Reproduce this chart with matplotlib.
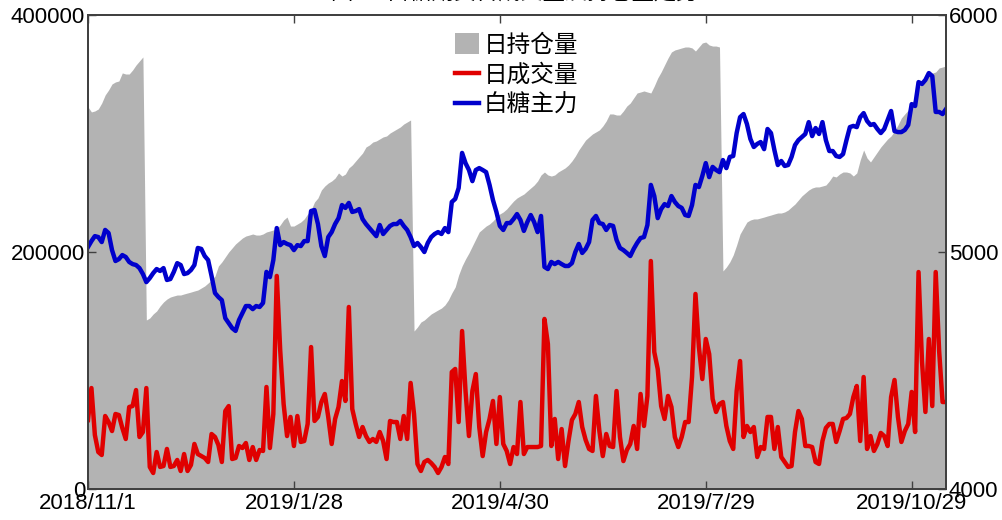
import numpy as np
import matplotlib
matplotlib.use('Agg')
import matplotlib.pyplot as plt
from matplotlib.patches import Patch
from matplotlib.lines import Line2D

plt.rcParams['font.family'] = ['Liberation Sans', 'Noto Sans CJK SC']

# x axis labels (every 60 trading days)
tick_labels = ['2018/11/1', '2019/1/28', '2019/4/30', '2019/7/29', '2019/10/29']
tick_step = 60

# daily open interest (gray area, left axis)
open_interest = [
    322400, 318200, 319000, 320700, 325700, 332500, 336700, 341800, 343500, 344300,
    351100, 350200, 350200, 353600, 357800, 361200, 364600,
    142600, 144300, 147700, 150200, 154400, 157800, 160300, 162000, 162900, 163700,
    163700, 164600, 165400, 166200, 167100, 167900, 169600, 171300, 173800, 176400,
    179700, 188200, 191600, 195800, 200000, 203400, 206800, 209300, 211800, 213500,
    214300, 215200, 214300, 214300,
    215200, 216900, 217700, 218600, 219400, 222800, 227000, 229500, 221900, 221900,
    223600, 225300, 227900, 232100, 235400, 242200, 245600, 252300, 255700, 258200,
    259900, 262400, 266700, 264100, 265800, 270900, 273400, 276800, 280200, 283500,
    288600, 290300, 292800, 293700, 295400, 297100, 297900, 300400, 302100, 303800,
    305500, 308000, 309700, 311400,
    133300, 136700, 140900, 142600, 145200, 147700, 149400, 151100, 152700, 155300,
    159500, 165400, 170500, 180600, 188200, 194100, 199200, 205100, 211000, 216900,
    219400, 221900, 223600, 226200, 229500, 232100, 233800, 236300, 239700, 243000,
    245600, 247300, 248900, 251500, 254000, 256500, 259900, 265000, 267500, 265000,
    264100, 265000, 267500, 269200, 270900, 273400, 276800, 281000, 286100, 290300,
    294500, 297100, 299600, 301300, 303000, 306300, 310600, 316500, 316500, 315600,
    315600, 319000, 323200, 325700, 330000, 334200, 335000, 335900, 335000, 334200,
    340100, 346800, 351900, 357800, 363700, 368800, 370500, 371300, 372200, 373000,
    373000, 372200, 369600, 373000, 376400, 377200, 374700, 373800, 373800, 373000,
    184000, 187300, 191600, 197500, 205900, 215200, 220300, 225300, 227000, 227900,
    227900, 228700, 229500, 230400, 231200, 232100, 232900, 232900, 233800, 235400,
    238000, 240500, 243900, 247300, 249800, 252300, 254000, 254900, 254900, 255700,
    256500, 259900, 264100, 263300, 265800, 267500, 267500, 266700, 264100, 266700,
    277600, 286100, 279300, 276000, 280200, 284400, 288600, 292000, 295400, 297900,
    302100, 307200, 313100, 316500, 319800, 324900, 330800, 338400, 342600, 347700,
    351000, 351000, 351900, 355300, 356100, 357000,
]

# daily volume (red line, left axis)
volume = [
    58200, 85200, 45600, 31200, 28700, 61600, 56500, 48900, 63300, 62400,
    51500, 42200, 69200, 70000, 83500, 43900, 48100, 85200, 18600, 13500,
    31200, 18600, 19400, 33800, 18600, 19400, 24500, 15200, 29500, 15200,
    20300, 38000, 29500, 27800, 26200, 22800, 46400, 43900, 37100, 22800,
    65800, 70000, 25300, 26200, 36300, 34600, 38800, 24500, 35400, 24500,
    32900, 32100, 86100, 34600, 63300, 179800, 117300, 71700, 44700, 60800,
    36300, 61600, 39700, 40500, 54900, 119800, 57400, 60800, 73400, 80200,
    60800, 38000, 59100, 69200, 91100, 74300, 153600, 67500, 54900, 43900,
    52300, 44700, 39700, 42200, 39700, 48100, 40500, 25300, 57400, 56500,
    56500, 42200, 61600, 42200, 89500, 63300, 21100, 15200, 22800, 24500,
    21900, 18600, 13500, 18600, 27000, 21100, 98700, 101300, 56500, 133300,
    82700, 44700, 82700, 97000, 52300, 27800, 48100, 59100, 74300, 38000,
    77600, 38000, 32100, 21100, 35400, 29500, 73400, 29500, 35400, 35400,
    35400, 35400, 36300, 143500, 122400, 36300, 59100, 25300, 50600, 19400,
    40500, 58200, 63300, 73400, 52300, 41400, 33800, 32100, 78500, 48900,
    27800, 46400, 36300, 35400, 82700, 43900, 23600, 32900, 38000, 53200,
    33800, 80200, 53200, 78500, 192400, 115600, 101300, 70000, 59100, 78500,
    69200, 43900, 35400, 43900, 56500, 56500, 94500, 164600, 119800, 92800,
    126600, 113900, 76000, 65000, 71700, 73400, 53200, 40500, 33800, 82700,
    108000, 43900, 53200, 48100, 52300, 27000, 35400, 33800, 60800, 60800,
    33800, 52300, 27000, 22800, 18600, 19400, 48100, 65800, 59100, 36300,
    36300, 35400, 22800, 21100, 40500, 51500, 54900, 54900, 39700, 48900,
    59100, 59900, 63300, 77600, 86900, 40500, 94500, 33800, 44700, 32100,
    38000, 47300, 44700, 36300, 77600, 92000, 60800, 39700, 48900, 54900,
    81900, 48100, 183100, 108000, 65000, 126600, 70000, 183100, 116500, 73400,
    73400,
]

# main sugar contract price (blue line, right axis)
price = [
    5021, 5046, 5067, 5063, 5042, 5093, 5080, 5008, 4962, 4970,
    4987, 4979, 4958, 4949, 4945, 4932, 4907, 4873, 4890, 4911,
    4928, 4920, 4932, 4882, 4886, 4916, 4953, 4945, 4907, 4911,
    4924, 4945, 5017, 5013, 4983, 4966, 4899, 4827, 4810, 4797,
    4721, 4700, 4679, 4667, 4713, 4743, 4772, 4772, 4759, 4772,
    4768, 4785, 4916, 4894, 4966, 5101, 5029, 5042, 5034, 5029,
    5008, 5029, 5025, 5046, 5046, 5173, 5177, 5118, 5025, 4983,
    5063, 5084, 5118, 5143, 5198, 5186, 5207, 5169, 5173, 5181,
    5139, 5118, 5101, 5084, 5067, 5114, 5076, 5093, 5110, 5118,
    5118, 5131, 5110, 5093, 5063, 5025, 5038, 5021, 5000, 5038,
    5063, 5076, 5084, 5076, 5101, 5084, 5211, 5224, 5270, 5418,
    5375, 5346, 5299, 5346, 5354, 5346, 5337, 5283, 5219, 5169,
    5110, 5093, 5122, 5122, 5139, 5160, 5135, 5089, 5126, 5156,
    5126, 5084, 5152, 4937, 4928, 4958, 4949, 4958, 4949, 4941,
    4941, 4953, 5000, 5034, 4996, 5013, 5042, 5135, 5152, 5122,
    5118, 5093, 5114, 5110, 5051, 5017, 5008, 4996, 4983, 5013,
    5038, 5059, 5063, 5114, 5283, 5236, 5143, 5181, 5202, 5194,
    5236, 5211, 5194, 5186, 5156, 5152, 5198, 5283, 5274, 5321,
    5375, 5316, 5359, 5346, 5337, 5388, 5354, 5401, 5405, 5502,
    5569, 5582, 5540, 5477, 5443, 5456, 5464, 5434, 5519, 5502,
    5430, 5367, 5384, 5363, 5367, 5401, 5451, 5472, 5485, 5498,
    5548, 5489, 5523, 5498, 5548, 5472, 5426, 5426, 5405, 5401,
    5413, 5472, 5527, 5532, 5527, 5569, 5586, 5553, 5536, 5540,
    5519, 5502, 5519, 5557, 5595, 5510, 5506, 5506, 5515, 5536,
    5624, 5616, 5717, 5709, 5726, 5755, 5742, 5591, 5591, 5582,
    5603,
]

gray = '#b3b3b3'
red = '#e00000'
blue = '#0000cc'
spine_col = '#404040'

x = np.arange(len(price))

fig = plt.figure(figsize=(10.03, 5.2), dpi=100)
ax = fig.add_axes([88 / 1003, 31 / 520, 858 / 1003, 474 / 520])
ax.fill_between(x, 0, open_interest, color=gray, linewidth=0)
ax.plot(x, volume, color=red, linewidth=3.2)
ax.set_xlim(0, len(price) - 1)
ax.set_ylim(0, 400000)
ax.set_yticks([0, 200000, 400000])
ax.set_yticklabels(['0', '200000', '400000'])
ticks = np.arange(0, len(price), tick_step)
ax.set_xticks(ticks)
ax.set_xticklabels(tick_labels)

ax2 = ax.twinx()
ax2.plot(x, price, color=blue, linewidth=3.2)
ax2.set_ylim(4000, 6000)
ax2.set_yticks([4000, 5000, 6000])

for a in (ax, ax2):
    for s in a.spines.values():
        s.set_color(spine_col)
        s.set_linewidth(1.3)
ax.tick_params(axis='x', direction='in', top=True, length=6, width=1, color=spine_col,
               labelsize=16, pad=3)
ax.tick_params(axis='y', direction='in', length=6, width=1, color=spine_col,
               labelsize=16, pad=2)
ax2.tick_params(axis='y', direction='in', length=6, width=1, color=spine_col,
                labelsize=16, pad=2)

handles = [
    Patch(facecolor=gray, edgecolor='none', label='日持仓量'),
    Line2D([], [], color=red, linewidth=3.2, label='日成交量'),
    Line2D([], [], color=blue, linewidth=3.2, label='白糖主力'),
]
ax2.legend(handles=handles, loc='upper left', bbox_to_anchor=(455 / 1003, 1 - 33 / 520),
           bbox_transform=fig.transFigure, frameon=False, fontsize=17,
           handlelength=1.0, handleheight=1.0, handletextpad=0.2, labelspacing=0.28,
           borderaxespad=0, borderpad=0)

fig.text(0.513, 1 - 5 / 520, '图1：白糖期货日成交量及持仓量走势', ha='center', va='bottom',
         fontsize=16, family=['Noto Sans CJK SC', 'DejaVu Sans'])

fig.savefig('out.png', dpi=100)
